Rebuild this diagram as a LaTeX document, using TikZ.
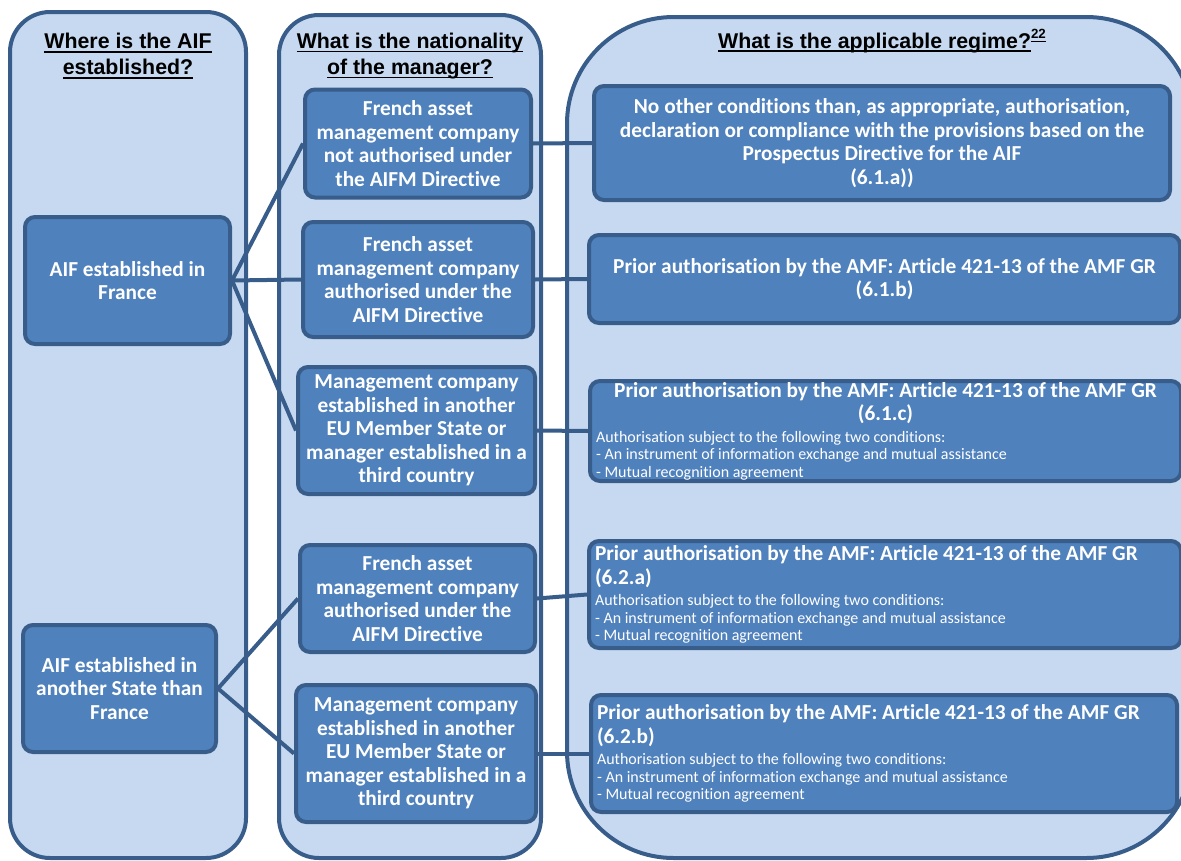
\documentclass[tikz,border=0pt]{standalone}
\usepackage{fontspec}
\setmainfont{Carlito}[Ligatures=NoCommon]
\newfontfamily\hdfont{Liberation Sans}
\definecolor{colfill}{HTML}{C6D9F1}
\definecolor{boxfill}{HTML}{4F81BD}
\definecolor{bord}{HTML}{385D8A}
\newcommand\myul[1]{\setbox0=\hbox{#1}\rlap{\rule[-2.8pt]{\wd0}{1.2pt}}\box0}
\newcommand\smtxt{\mdseries\fontsize{12}{13.1}\selectfont}
\pgfdeclarelayer{back}
\pgfdeclarelayer{bg}
\pgfsetlayers{back,bg,main}
\begin{document}
\begin{tikzpicture}[x=0.75pt,y=-0.75pt,
  container/.style={draw=bord,fill=colfill,line width=3pt},
  box/.style={draw=bord,fill=boxfill,line width=3pt,rounded corners=7.5pt,text=white,inner sep=0pt,align=center,font=\bfseries\fontsize{16}{17.6}\selectfont},
  rbox/.style={box,align=flush left},
  sz/.style 2 args={minimum width={#1*0.75pt},minimum height={#2*0.75pt}},
  link/.style={draw=bord,line width=3pt},
  hd/.style={font=\hdfont\bfseries\fontsize{16}{19.5}\selectfont,align=center,inner sep=0pt}
]
\useasboundingbox (0,0) rectangle (1181,860);
\begin{pgfonlayer}{back}
\clip (0,0) rectangle (1181,860);
\path[container,rounded corners=30pt] (10,12) rectangle (246,858);
\path[container,rounded corners=30pt] (279,15) rectangle (541,858);
\path[container,rounded corners=80pt] (567,17) rectangle (1193,858);
\end{pgfonlayer}

% headers
\node[hd] (h1) at (128,56) {\myul{Where is the AIF}\\\myul{established?}};
\node[hd] (h2) at (410,56) {\myul{What is the nationality}\\\myul{of the manager?}};
\node[hd,anchor=base] (h3) at (882,48) {\myul{What is the applicable regime?}\raisebox{7pt}{\myul{\fontsize{10}{10}\selectfont 22}}};

% column 1
\node[box,sz={205}{127}] (a1) at (127.5,280.5) {AIF established in\\France};
\node[box,sz={193}{127}] (a2) at (119.5,688.5) {AIF established in\\another State than\\France};

% column 2
\node[box,sz={226}{108}] (m1) at (418,143.5) {French asset\\management company\\not authorised under\\the AIFM Directive};
\node[box,sz={230}{115}] (m2) at (418,279.5) {French asset\\management company\\authorised under the\\AIFM Directive};
\node[box,sz={237}{127}] (m3) at (416.5,430.5) {Management company\\established in another\\EU Member State or\\manager established in a\\third country};
\node[box,sz={235}{107}] (m4) at (417.5,598.5) {French asset\\management company\\authorised under the\\AIFM Directive};
\node[box,sz={240}{137}] (m5) at (416,753.5) {Management company\\established in another\\EU Member State or\\manager established in a\\third country};

% column 3
\node[box,sz={576}{114}] (r1) at (882,143) {No other conditions than, as appropriate, authorisation,\\declaration or compliance with the provisions based on the\\Prospectus Directive for the AIF\\(6.1.a))};
\node[box,sz={591}{88}] (r2) at (884.5,279) {Prior authorisation by the AMF: Article 421-13 of the AMF GR\\(6.1.b)};
\node[rbox,sz={591}{100},text width=434.25pt] (r3) at (885.5,431) {{\centering Prior authorisation by the AMF: Article 421-13 of the AMF GR\par (6.1.c)\par}\vspace{3pt}{\smtxt Authorisation subject to the following two conditions:\par - An instrument of information exchange and mutual assistance\par - Mutual recognition agreement\par}};
\node[rbox,sz={592}{107},text width=435pt] (r4) at (885,594.5) {Prior authorisation by the AMF: Article 421-13 of the AMF GR\par (6.2.a)\par\vspace{3pt}{\smtxt Authorisation subject to the following two conditions:\par - An instrument of information exchange and mutual assistance\par - Mutual recognition agreement\par}};
\node[rbox,sz={586}{117},text width=430.5pt] (r5) at (884,753.5) {Prior authorisation by the AMF: Article 421-13 of the AMF GR\par (6.2.b)\par\vspace{3pt}{\smtxt Authorisation subject to the following two conditions:\par - An instrument of information exchange and mutual assistance\par - Mutual recognition agreement\par}};

% connectors
\begin{pgfonlayer}{bg}
\draw[link] (a1.east) -- (m1.west);
\draw[link] (a1.east) -- (m2.west);
\draw[link] (a1.east) -- (m3.west);
\draw[link] (m1.east) -- (r1.west);
\draw[link] (m2.east) -- (r2.west);
\draw[link] (m3.east) -- (r3.west);
\draw[link] (a2.east) -- (m4.west);
\draw[link] (a2.east) -- (m5.west);
\draw[link] (m4.east) -- (r4.west);
\draw[link] (m5.east) -- (r5.west);
\end{pgfonlayer}
\end{tikzpicture}
\end{document}
